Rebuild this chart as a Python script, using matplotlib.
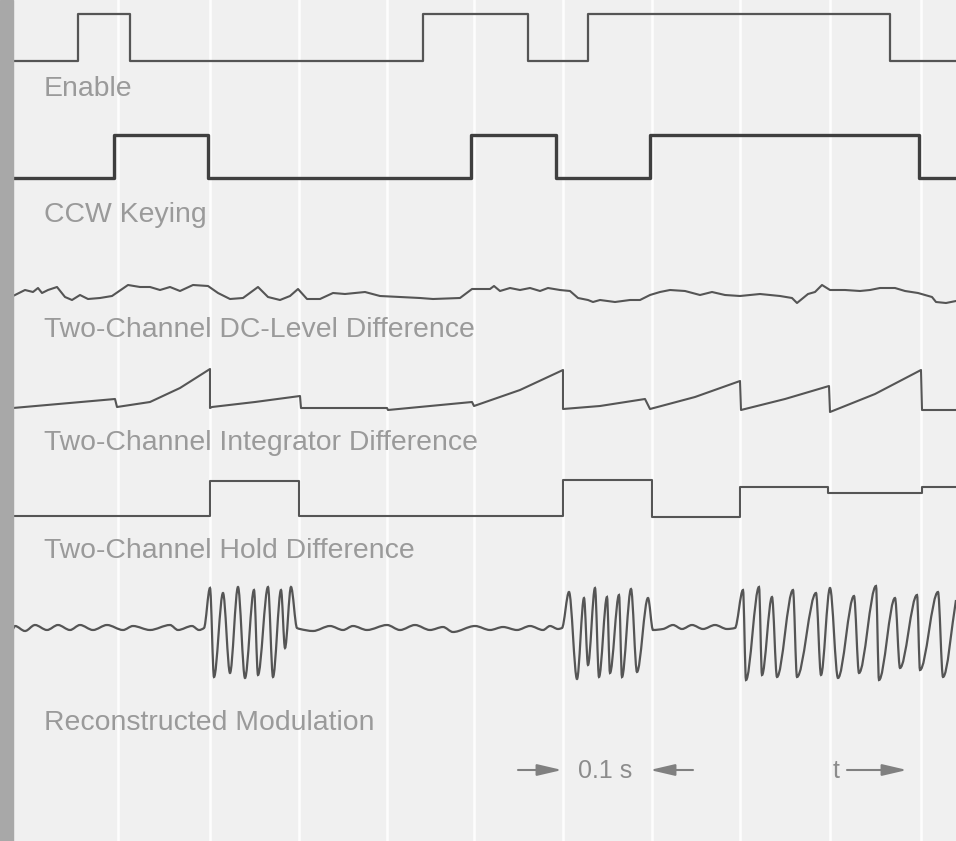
import numpy as np
import matplotlib.pyplot as plt
from matplotlib.path import Path
from matplotlib.patches import PathPatch

# chart recorder traces, x = chart position (px along time axis), y = pen position
labels = ['Enable', 'CCW Keying', 'Two-Channel DC-Level Difference',
          'Two-Channel Integrator Difference', 'Two-Channel Hold Difference',
          'Reconstructed Modulation']

enable_x = [13, 78, 130, 423, 528, 588, 890, 956]
enable_y = [61, 14, 61, 14, 61, 14, 61, 61]

ccw_x = [13, 114, 208, 471, 556, 650, 919, 956]
ccw_y = [178, 135, 178, 135, 178, 135, 178, 178]

dc_x = [13, 25, 33, 38, 42, 48, 57, 65, 72, 80, 88, 100, 112, 128, 140, 150, 160, 170, 180, 193,
        208, 218, 230, 243, 258, 268, 280, 290, 298, 307, 320, 333, 345, 365, 380, 400, 420, 433, 460, 472,
        480, 490, 494, 500, 510, 520, 530, 540, 548, 560, 570, 578, 588, 593, 600, 615, 630, 640, 650, 660,
        670, 685, 700, 712, 725, 740, 760, 780, 792, 797, 808, 815, 822, 830, 845, 860, 870, 880, 895, 905,
        918, 932, 936, 946, 956]
dc_y = [296, 290, 292, 288, 293, 290, 287, 297, 300, 295, 299, 298, 296, 285, 287, 287, 290, 287, 291, 285,
        286, 293, 299, 298, 287, 297, 300, 296, 289, 299, 299, 293, 294, 292, 296, 297, 298, 299, 298, 289,
        289, 289, 286, 291, 288, 290, 288, 291, 288, 290, 291, 298, 300, 302, 300, 302, 300, 300, 295, 292,
        290, 291, 295, 292, 295, 296, 294, 296, 298, 303, 294, 292, 285, 290, 290, 291, 290, 288, 288, 291,
        293, 297, 302, 303, 301]

integ_x = [13, 115, 117, 150, 180, 210, 210, 212, 255, 300, 301, 387, 388, 430, 472, 474,
           520, 563, 563, 600, 645, 650, 695, 740, 741, 785, 829, 830, 875, 921, 922, 956]
integ_y = [408, 399, 407, 402, 388, 369, 408, 407, 402, 396, 408, 408, 410, 406, 402, 406,
           390, 370, 409, 406, 399, 409, 397, 381, 410, 399, 386, 412, 394, 370, 410, 410]

hold_x = [13, 210, 299, 563, 652, 740, 828, 922, 956]
hold_y = [516, 481, 516, 480, 517, 487, 493, 487, 487]

mod_x = [13, 15, 25, 35, 47, 58, 70, 80, 93, 107, 123, 133, 150, 170, 178, 192, 199, 204,
         210, 214, 223, 230, 238, 245, 254, 258, 268, 273, 281, 285, 291, 297,
         300, 313, 330, 343, 353, 367, 387, 400, 415, 430, 443, 453, 475, 490, 503, 517, 530, 543, 550, 558, 562,
         569, 577, 584, 588, 595, 599, 607, 610, 619, 622, 631, 637, 648, 653,
         663, 673, 682, 692, 703, 715, 727, 735,
         743, 746, 759, 762, 772, 777, 793, 797, 816, 821, 830, 838, 854, 859, 876, 879, 895, 900, 917, 920,
         938, 943, 956]
mod_y = [629, 626, 631, 625, 630, 625, 630, 625, 630, 625, 630, 626, 630, 625, 630, 626, 630, 628,
         588, 677, 593, 673, 587, 678, 590, 675, 587, 677, 590, 648, 587, 628,
         629, 631, 626, 630, 626, 630, 625, 630, 625, 630, 627, 632, 626, 630, 627, 630, 626, 630, 626, 629, 628,
         592, 679, 598, 665, 588, 677, 597, 673, 595, 677, 589, 672, 598, 630,
         629, 625, 629, 625, 629, 625, 629, 628,
         590, 680, 587, 675, 597, 677, 590, 677, 593, 675, 588, 678, 596, 673, 586, 680, 598, 668, 595, 670,
         592, 677, 600]

grid_x = [118, 210, 299, 387, 474, 563, 652, 740, 830, 921]


def smooth_path(x, y):
    # monotone cubic (pchip slopes) drawn as bezier segments
    x = np.asarray(x, float)
    y = np.asarray(y, float)
    h = np.diff(x)
    d = np.diff(y) / h
    m = np.zeros_like(y)
    m[0], m[-1] = d[0], d[-1]
    for k in range(1, len(x) - 1):
        if d[k - 1] * d[k] > 0:
            w1 = 2 * h[k] + h[k - 1]
            w2 = h[k] + 2 * h[k - 1]
            m[k] = (w1 + w2) / (w1 / d[k - 1] + w2 / d[k])
    verts = [(x[0], y[0])]
    codes = [Path.MOVETO]
    for k in range(len(h)):
        verts += [(x[k] + h[k] / 3, y[k] + m[k] * h[k] / 3),
                  (x[k + 1] - h[k] / 3, y[k + 1] - m[k + 1] * h[k] / 3),
                  (x[k + 1], y[k + 1])]
        codes += [Path.CURVE4] * 3
    return Path(verts, codes)


fig = plt.figure(figsize=(9.56, 8.41), dpi=100, facecolor='#f0f0f0')
ax = fig.add_axes([0, 0, 1, 1])
ax.set_xlim(0, 956)
ax.set_ylim(841, 0)
ax.axis('off')

for gx in grid_x:
    ax.axvline(gx, color='white', lw=1.8, alpha=0.9, zorder=0)
ax.axvspan(0, 13, color='#a8a8a8', zorder=5)

trace = '#555555'
ax.step(enable_x, enable_y, where='post', color=trace, lw=1.6)
ax.step(ccw_x, ccw_y, where='post', color='#3f3f3f', lw=2.4)
ax.plot(dc_x, dc_y, color=trace, lw=1.5, solid_joinstyle='round')
ax.plot(integ_x, integ_y, color=trace, lw=1.5)
ax.step(hold_x, hold_y, where='post', color=trace, lw=1.5)
ax.add_patch(PathPatch(smooth_path(mod_x, mod_y), fill=False, edgecolor=trace, lw=1.6))

label_y = [96, 222, 337, 450, 558, 730]
for lab, ly in zip(labels, label_y):
    ax.text(44, ly, lab, fontsize=20.4, color='#9a9a9a', family='Liberation Sans', va='baseline')

ax.text(605, 778, '0.1 s', fontsize=18, color='#8c8c8c', family='Liberation Sans',
        ha='center', va='baseline')
ax.text(836, 778, 't', fontsize=18, color='#8c8c8c', family='Liberation Sans',
        ha='center', va='baseline')
arrow = dict(arrowstyle='-|>,head_length=0.6,head_width=0.14', color='#808080',
             lw=1.5, mutation_scale=25, shrinkA=0, shrinkB=0)
ax.annotate('', xy=(562, 770), xytext=(518, 770), arrowprops=arrow)
ax.annotate('', xy=(650, 770), xytext=(693, 770), arrowprops=arrow)
ax.annotate('', xy=(907, 770), xytext=(847, 770), arrowprops=arrow)

fig.savefig('out.png', dpi=100, facecolor=fig.get_facecolor())
